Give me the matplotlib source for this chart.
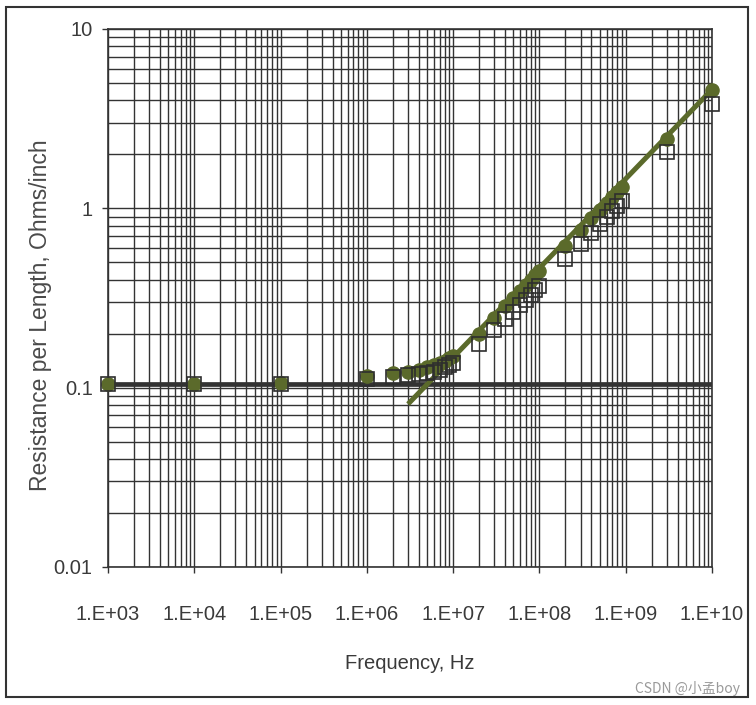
import numpy as np
import matplotlib
matplotlib.use("Agg")
import matplotlib.pyplot as plt
from matplotlib.ticker import FixedLocator, LogLocator, NullFormatter
from matplotlib.patches import Rectangle

freq = [1e3, 1e4, 1e5, 1e6, 2e6, 3e6, 4e6, 5e6, 6e6, 7e6, 8e6, 9e6, 1e7,
        2e7, 3e7, 4e7, 5e7, 6e7, 7e7, 8e7, 9e7, 1e8,
        2e8, 3e8, 4e8, 5e8, 6e8, 7e8, 8e8, 9e8, 3e9, 1e10]
r_circle = [0.105, 0.105, 0.106, 0.116, 0.121, 0.123, 0.126, 0.130, 0.133, 0.137, 0.141, 0.146, 0.150,
            0.200, 0.245, 0.285, 0.315, 0.345, 0.375, 0.400, 0.425, 0.445,
            0.62, 0.76, 0.88, 0.98, 1.07, 1.16, 1.24, 1.32, 2.45, 4.55]
r_square = [0.105, 0.105, 0.105, 0.112, 0.115, 0.117, 0.119, 0.121, 0.123, 0.126, 0.130, 0.133, 0.137,
            0.175, 0.210, 0.240, 0.265, 0.290, 0.310, 0.330, 0.350, 0.370,
            0.52, 0.63, 0.73, 0.82, 0.90, 0.97, 1.03, 1.10, 2.05, 3.80]

# DC resistance and skin-effect fit line
dc_f = [1e3, 1e10]
dc_r = [0.105, 0.105]
fit_f = [3e6, 1e10]
fit_r = [0.081, 4.6]

xticks = [1e3, 1e4, 1e5, 1e6, 1e7, 1e8, 1e9, 1e10]
xtick_labels = ["1.E+03", "1.E+04", "1.E+05", "1.E+06", "1.E+07", "1.E+08", "1.E+09", "1.E+10"]
yticks = [0.01, 0.1, 1, 10]
ytick_labels = ["0.01", "0.1", "1", "10"]

olive = "#5b6a2b"
grid_c = "#333333"

plt.rcParams['font.family'] = ['Liberation Sans', 'DejaVu Sans']

fig = plt.figure(figsize=(7.56, 7.05), dpi=100)
ax = fig.add_axes([108/756, 1-567/705, (712-108)/756, (567-29)/705])

ax.set_xscale("log")
ax.set_yscale("log")
ax.set_xlim(1e3, 1e10)
ax.set_ylim(0.01, 10)

ax.xaxis.set_major_locator(FixedLocator(xticks))
ax.set_xticklabels(xtick_labels)
ax.yaxis.set_major_locator(FixedLocator(yticks))
ax.set_yticklabels(ytick_labels)
ax.xaxis.set_minor_locator(LogLocator(base=10, subs=np.arange(2, 10), numticks=20))
ax.yaxis.set_minor_locator(LogLocator(base=10, subs=np.arange(2, 10), numticks=20))
ax.xaxis.set_minor_formatter(NullFormatter())
ax.yaxis.set_minor_formatter(NullFormatter())

ax.grid(True, which="both", color=grid_c, linewidth=1.0)
ax.set_axisbelow(True)
ax.tick_params(which="minor", length=0)
ax.tick_params(which="major", direction="out", length=4, width=1, color=grid_c,
               labelsize=14.5, labelcolor="#3a3a3a")
ax.tick_params(axis="x", which="major", pad=23)
ax.tick_params(axis="y", which="major", pad=7)
for s in ax.spines.values():
    s.set_color(grid_c)
    s.set_linewidth(1.2)

ax.plot(dc_f, dc_r, color="#333333", linewidth=3.4, zorder=3)
ax.plot(fit_f, fit_r, color=olive, linewidth=3.6, zorder=4, solid_capstyle="butt")
ax.plot(freq, r_circle, linestyle="none", marker="o", markersize=9.5,
        markerfacecolor=olive, markeredgecolor=olive, zorder=5, clip_on=False)
ax.plot(freq, r_square, linestyle="none", marker="s", markersize=10.5,
        markerfacecolor="none", markeredgecolor="#2e2e2e", markeredgewidth=1.2,
        zorder=6, clip_on=False)

ax.set_xlabel("Frequency, Hz", fontsize=14.5, color="#3a3a3a", labelpad=22)
ax.set_ylabel("Resistance per Length, Ohms/inch", fontsize=16.5, color="#4a4a4a")
ax.yaxis.set_label_coords(-0.093, 0.468)

fig.patches.append(Rectangle((6/756, 8/705), 742/756, 690/705, transform=fig.transFigure,
                             fill=False, edgecolor="#333333", linewidth=1.5))
fig.text(740/756, 1-688/705, "CSDN @小孟boy", ha="right", va="center", fontsize=10,
         color="#9a9a9a", family=['Noto Sans CJK SC', 'DejaVu Sans'])

fig.savefig("out.png", dpi=100)
